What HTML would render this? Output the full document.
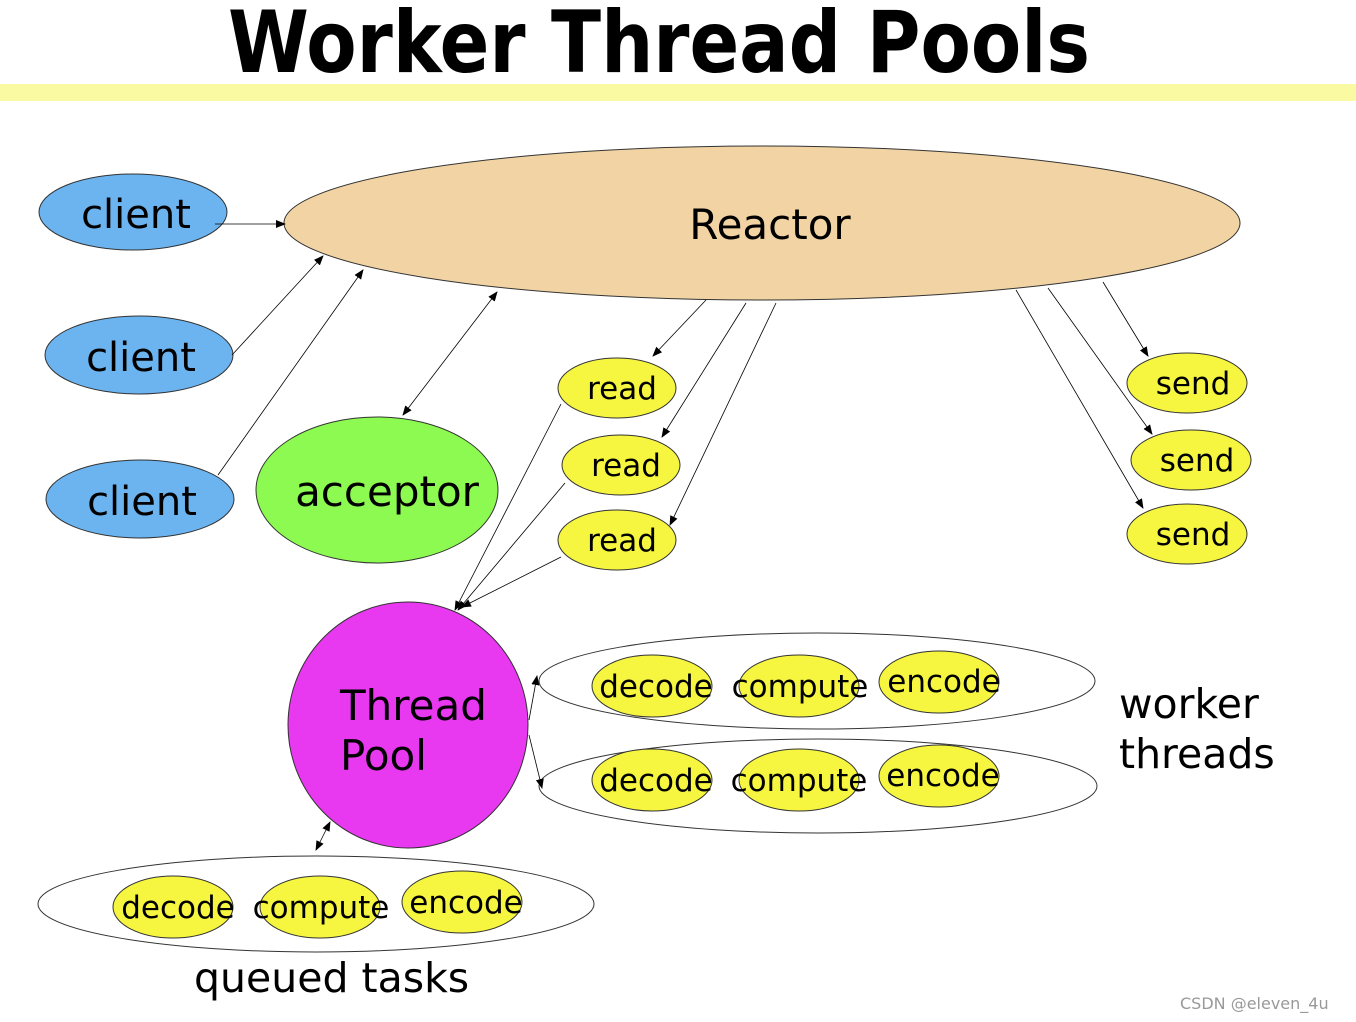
<!DOCTYPE html>
<html><head><meta charset="utf-8"><style>body{margin:0;background:#fff}svg{display:block}</style></head><body>
<svg width="1356" height="1022" viewBox="0 0 1356 1022" xmlns="http://www.w3.org/2000/svg" font-family="DejaVu Sans, sans-serif">
<defs><marker id="a" markerWidth="10" markerHeight="10" refX="9" refY="5" orient="auto" markerUnits="userSpaceOnUse"><path d="M0,1 L10,5 L0,9z" fill="#000"/></marker>
<marker id="b" markerWidth="10" markerHeight="10" refX="1" refY="5" orient="auto" markerUnits="userSpaceOnUse"><path d="M10,1 L0,5 L10,9z" fill="#000"/></marker></defs>
<text x="659" y="72" font-size="86" font-weight="bold" text-anchor="middle" textLength="862" lengthAdjust="spacingAndGlyphs">Worker Thread Pools</text>
<rect x="0" y="84" width="1356" height="17" fill="#fafaa2"/>
<g stroke="#333" stroke-width="1">
<ellipse cx="762" cy="223" rx="478" ry="77" fill="#f2d4a4"/>
<ellipse cx="133" cy="212" rx="94" ry="38" fill="#6cb4f0"/>
<ellipse cx="139" cy="355" rx="94" ry="39" fill="#6cb4f0"/>
<ellipse cx="140" cy="499" rx="94" ry="39" fill="#6cb4f0"/>
<ellipse cx="377" cy="490" rx="121" ry="73" fill="#8cfa50"/>
<ellipse cx="617" cy="388" rx="59" ry="30" fill="#f6f640"/>
<ellipse cx="621" cy="465" rx="59" ry="30" fill="#f6f640"/>
<ellipse cx="617" cy="540" rx="59" ry="30" fill="#f6f640"/>
<ellipse cx="1187" cy="383" rx="60" ry="30" fill="#f6f640"/>
<ellipse cx="1191" cy="460" rx="60" ry="30" fill="#f6f640"/>
<ellipse cx="1187" cy="534" rx="60" ry="30" fill="#f6f640"/>
<ellipse cx="408" cy="725" rx="120" ry="123" fill="#e838f0"/>
<ellipse cx="817" cy="681" rx="278" ry="48" fill="none"/>
<ellipse cx="818" cy="786" rx="279" ry="47" fill="none"/>
<ellipse cx="316" cy="904" rx="278" ry="48" fill="none"/>
<g fill="#f6f640">
<ellipse cx="652" cy="686" rx="60" ry="31"/><ellipse cx="799" cy="686" rx="60" ry="31"/><ellipse cx="939" cy="682" rx="60" ry="31"/>
<ellipse cx="652" cy="780" rx="60" ry="31"/><ellipse cx="799" cy="780" rx="60" ry="31"/><ellipse cx="939" cy="776" rx="60" ry="31"/>
<ellipse cx="173" cy="907" rx="60" ry="31"/><ellipse cx="320" cy="907" rx="60" ry="31"/><ellipse cx="462" cy="902" rx="60" ry="31"/>
</g>
</g>
<g stroke="#000" stroke-width="0.8" fill="none" marker-end="url(#a)">
<line x1="215" y1="224" x2="285" y2="224"/>
<line x1="232" y1="355" x2="323" y2="256"/>
<line x1="218" y1="475" x2="363" y2="270"/>
<line x1="403" y1="415" x2="497" y2="292" marker-start="url(#b)"/>
<line x1="706" y1="300" x2="653" y2="356"/>
<line x1="746" y1="303" x2="662" y2="437"/>
<line x1="776" y1="303" x2="670" y2="525"/>
<line x1="561" y1="404" x2="455" y2="610"/>
<line x1="565" y1="483" x2="458" y2="610"/>
<line x1="561" y1="557" x2="462" y2="607"/>
<line x1="1103" y1="282" x2="1148" y2="356"/>
<line x1="1048" y1="288" x2="1152" y2="434"/>
<line x1="1016" y1="290" x2="1143" y2="508"/>
<line x1="529" y1="720" x2="537" y2="676"/>
<line x1="529" y1="735" x2="542" y2="788"/>
<line x1="316" y1="850" x2="330" y2="822" marker-start="url(#b)"/>
</g>
<g font-size="40" fill="#000">
<text x="136" y="228" text-anchor="middle">client</text>
<text x="141" y="371" text-anchor="middle">client</text>
<text x="142" y="515" text-anchor="middle">client</text>
<text x="770" y="239" text-anchor="middle" font-size="42">Reactor</text>
<text x="387" y="506" text-anchor="middle" font-size="42">acceptor</text>
<text x="340" y="720" font-size="42">Thread</text>
<text x="340" y="770" font-size="42">Pool</text>
<text x="1119" y="718" font-size="41">worker</text>
<text x="1119" y="768" font-size="41">threads</text>
<text x="194" y="992" font-size="41">queued tasks</text>
</g>
<g font-size="31" fill="#000" text-anchor="middle">
<text x="622" y="399">read</text><text x="626" y="476">read</text><text x="622" y="551">read</text>
<text x="1193" y="394">send</text><text x="1197" y="471">send</text><text x="1193" y="545">send</text>
<text x="656" y="697">decode</text><text x="800" y="697">compute</text><text x="944" y="692">encode</text>
<text x="656" y="791">decode</text><text x="799" y="791">compute</text><text x="943" y="786">encode</text>
<text x="178" y="918">decode</text><text x="321" y="918">compute</text><text x="466" y="913">encode</text>
</g>
<text x="1180" y="1009" font-size="16" fill="#999">CSDN @eleven_4u</text>
</svg>
</body></html>
